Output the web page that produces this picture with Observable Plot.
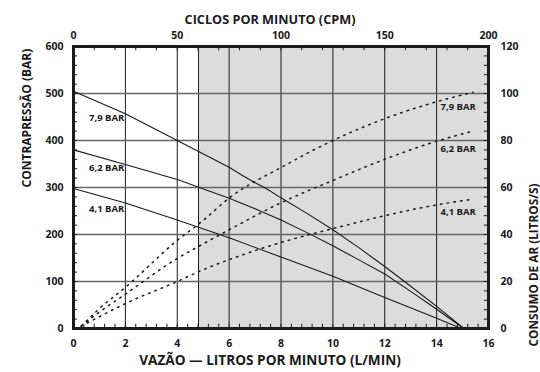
<!DOCTYPE html>
<html><head><meta charset="utf-8">
<script src="https://cdn.jsdelivr.net/npm/d3@7"></script>
<script src="https://cdn.jsdelivr.net/npm/@observablehq/plot@0.6"></script>
<style>html,body{margin:0;padding:0;background:#fff} svg{display:block}</style>
</head><body><div id="chart"></div>
<script>
// ---- data ----
const seriesNames = ["7,9 BAR", "6,2 BAR", "4,1 BAR"];

// back-pressure (BAR) vs flow (L/min), solid curves
const flow79 = [0, 2, 4, 6, 6.5, 7, 7.4, 8, 9, 10, 11, 12, 13, 14, 15.05];
const pres79 = [505, 457, 400, 343, 326, 310, 299, 278, 245, 210, 172, 132, 90, 47, 0];
const flow62 = [0, 2, 4, 6, 7, 8, 9, 10, 11, 12, 13, 14, 15.05];
const pres62 = [380, 349, 317, 277, 255, 231, 204, 176, 146, 116, 79, 41, 0];
const flow41 = [0, 2, 4, 6, 8, 10, 12, 14, 14.95];
const pres41 = [298, 267, 231, 193, 152, 111, 66, 22, 0];

// air consumption (L/s) vs flow (L/min), dotted curves
const airFlow = [0.3, 1, 2, 4, 5, 6, 8, 10, 12, 14, 15.4];
const air79 = [1, 8.5, 17.5, 37.5, 46, 55.5, 68.5, 80, 89.3, 96.5, 100.5];
const air62 = [1, 7, 14.6, 29.8, 36, 42, 53.5, 63, 72, 79.7, 84];
const air41 = [1, 5, 10.6, 20, 25, 29.3, 36.6, 42.5, 48, 52.6, 55];

// axes
const bottomTicks = [0, 2, 4, 6, 8, 10, 12, 14, 16];
const topTicks = [0, 50, 100, 150, 200];          // CPM
const leftTicks = [0, 100, 200, 300, 400, 500, 600];
const rightTicks = [0, 20, 40, 60, 80, 100, 120];  // L/s
const shadeStart = 4.82;

const titleTop = "CICLOS POR MINUTO (CPM)";
const titleBottom = "VAZÃO — LITROS POR MINUTO (L/MIN)";
const titleLeft = "CONTRAPRESSÃO (BAR)";
const titleRight = "CONSUMO DE AR (LITROS/S)";

const AIR_TO_P = 600 / 120;   // right axis -> left axis units
const CPM_TO_FLOW = 16 / 200; // top axis -> bottom axis units

// ---- build tables ----
const solid = [[flow79, pres79], [flow62, pres62], [flow41, pres41]]
  .flatMap(([xs, ys], i) => xs.map((x, j) => ({x, y: ys[j], s: seriesNames[i]})));
const dotted = [air79, air62, air41]
  .flatMap((ys, i) => airFlow.map((x, j) => ({x, y: ys[j] * AIR_TO_P, s: seriesNames[i]})));

const minorBottom = d3.range(0.4, 16, 0.4);
const minorTop = d3.range(0.8, 16, 0.8);
const minorY = d3.range(20, 600, 20);

const FONT = "'Open Sans', sans-serif";
const ink = "#1a1a1a";
const B = "bold";

const chart = Plot.plot({
  width: 540,
  height: 372,
  marginLeft: 73,
  marginRight: 52,
  marginTop: 46,
  marginBottom: 44,
  style: {fontFamily: FONT, fontSize: "10px", fontWeight: B, color: ink, background: "#fff"},
  x: {domain: [0, 16], axis: null},
  y: {domain: [0, 600], axis: null},
  marks: [
    Plot.rect([shadeStart], {x1: d => d, x2: 16, y1: 0, y2: 600, fill: "#dcdcdc"}),
    Plot.ruleX([shadeStart], {stroke: ink, strokeWidth: 1}),
    Plot.ruleX(bottomTicks.slice(1, -1), {stroke: ink, strokeWidth: 1}),
    Plot.ruleY(leftTicks.slice(1, -1), {stroke: "#666", strokeWidth: 1.3}),
    // inward minor ticks
    Plot.ruleX(minorBottom, {y1: 0, y2: 9, stroke: ink, strokeWidth: 1}),
    Plot.ruleX(minorTop, {y1: 591, y2: 600, stroke: ink, strokeWidth: 1}),
    Plot.ruleY(minorY, {x1: 0, x2: 0.16, stroke: ink, strokeWidth: 1}),
    Plot.ruleY(minorY, {x1: 15.84, x2: 16, stroke: ink, strokeWidth: 1}),
    // curves
    Plot.line(solid, {x: "x", y: "y", z: "s", stroke: ink, strokeWidth: 1.1}),
    Plot.line(dotted, {x: "x", y: "y", z: "s", stroke: ink, strokeWidth: 1.5,
      strokeDasharray: "1.6,5.2", curve: "monotone-x"}),
    // series labels
    Plot.text(seriesNames, {x: () => 0.6, y: (d, i) => [447, 341, 254][i], text: d => d,
      textAnchor: "start", fontSize: 9.5, fontWeight: B, fill: ink}),
    Plot.text(seriesNames, {x: () => 14.15, y: (d, i) => [471, 381, 247][i], text: d => d,
      textAnchor: "start", fontSize: 9.5, fontWeight: B, fill: ink}),
    // axes
    Plot.axisX(bottomTicks, {anchor: "bottom", tickSize: 0, tickPadding: 11, label: null, fontSize: 10.5, fontWeight: B}),
    Plot.axisX(topTicks.map(c => c * CPM_TO_FLOW), {anchor: "top", tickSize: 0, tickPadding: 8,
      label: null, tickFormat: d => Math.round(d / CPM_TO_FLOW), fontSize: 10.5, fontWeight: B}),
    Plot.axisY(leftTicks, {anchor: "left", tickSize: 0, tickPadding: 10, label: null, fontSize: 10.5, fontWeight: B}),
    Plot.axisY(rightTicks.map(v => v * AIR_TO_P), {anchor: "right", tickSize: 0, tickPadding: 12,
      label: null, tickFormat: d => Math.round(d / AIR_TO_P), fontSize: 10.5, fontWeight: B}),
    // axis titles
    Plot.text([titleTop], {frameAnchor: "top", dx: -11, dy: -32, fontSize: 11, fontWeight: B, fill: ink}),
    Plot.text([titleBottom], {frameAnchor: "bottom", dx: -11, dy: 36, fontSize: 11, fontWeight: B, fill: ink}),
    Plot.text([titleLeft], {frameAnchor: "left", dx: -46, dy: 0, rotate: -90, fontSize: 11, fontWeight: B, fill: ink}),
    Plot.text([titleRight], {frameAnchor: "right", dx: 46, dy: -4, rotate: -90, fontSize: 11, fontWeight: B, fill: ink}),
    Plot.frame({stroke: ink, strokeWidth: 3})
  ]
});
document.getElementById("chart").appendChild(chart);

// fit each axis title to the length it has in the reference
const titleLengths = new Map([[titleTop, 171], [titleBottom, 262], [titleLeft, 139], [titleRight, 163]]);
for (const t of chart.querySelectorAll("text")) {
  const target = titleLengths.get(t.textContent);
  if (!target) continue;
  const len = t.getComputedTextLength();
  if (len > 0) t.setAttribute("font-size", (11 * target / len).toFixed(2));
  if (len > 0) t.style.fontSize = (11 * target / len).toFixed(2) + "px";
}
</script>
</body></html>
